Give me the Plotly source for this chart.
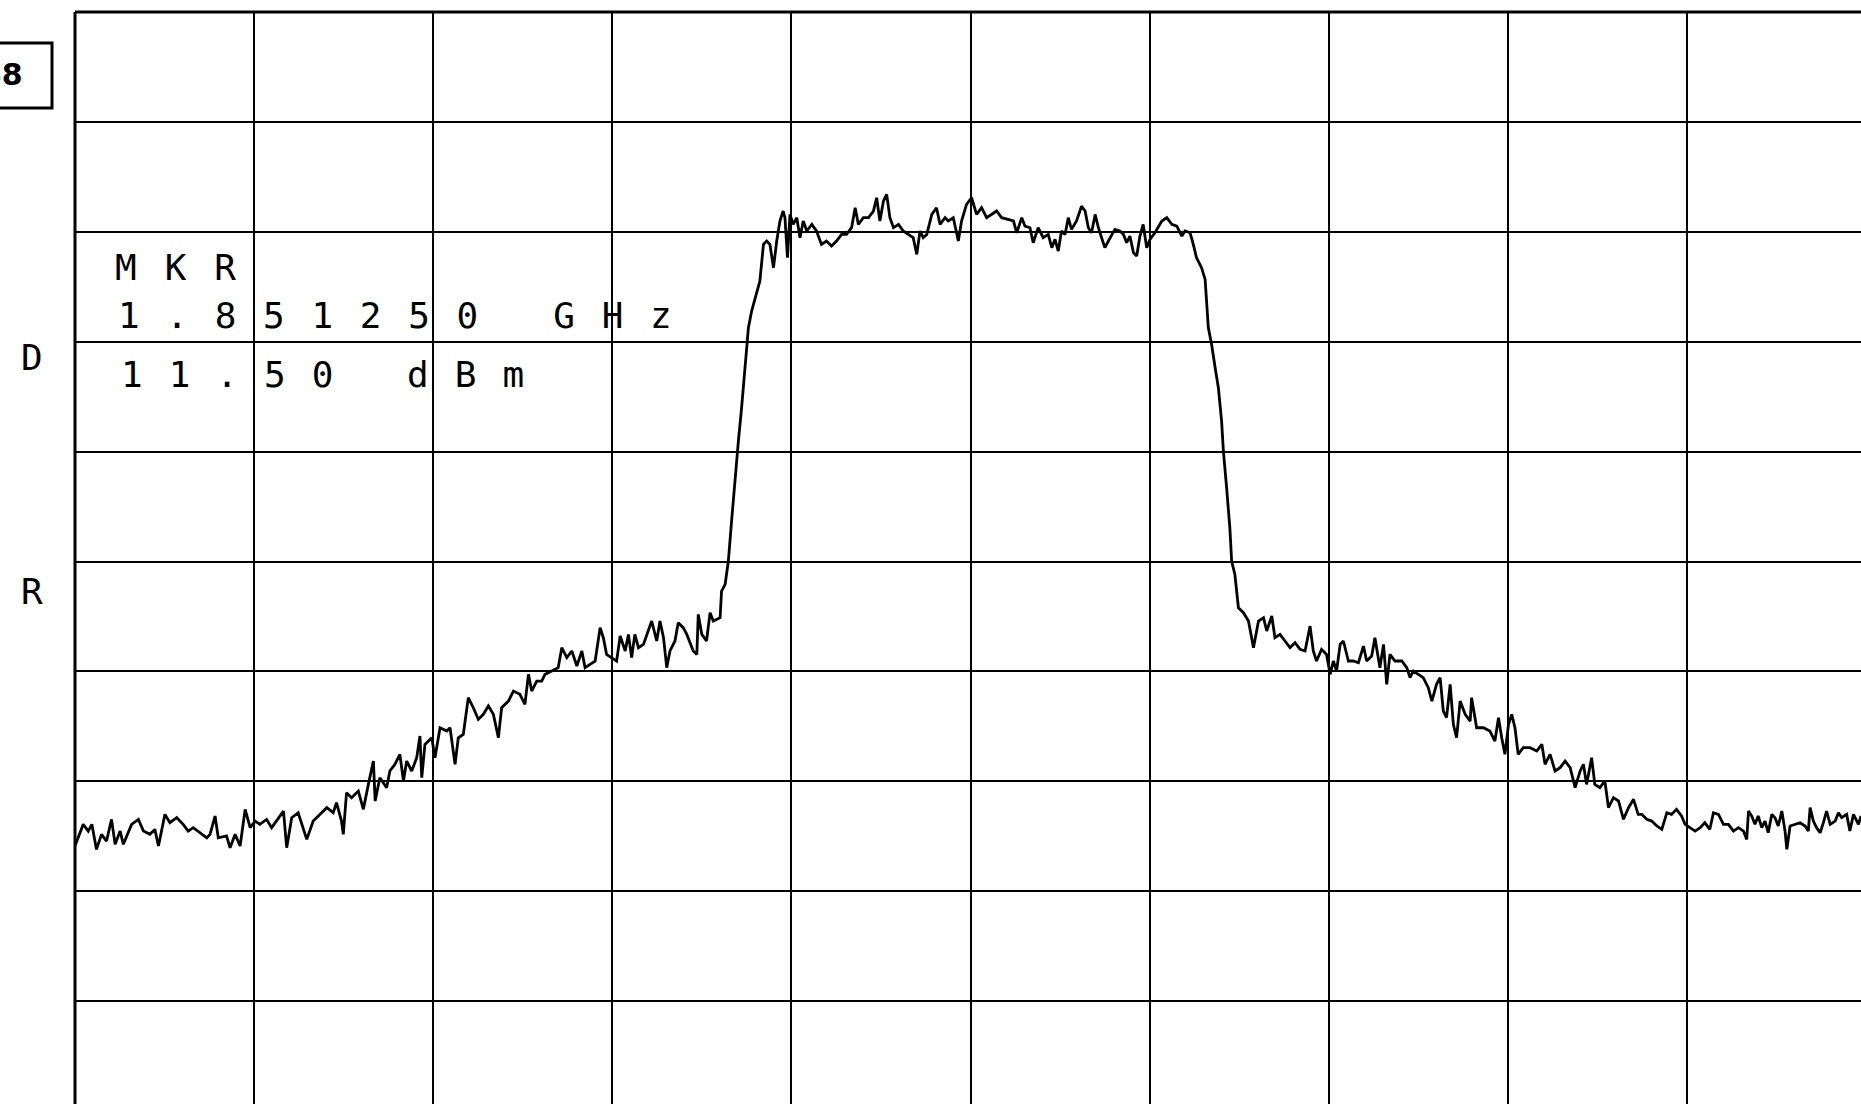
import plotly.graph_objects as go

# ---- data (spectrum analyser plot) ----
span_start_mhz = 1848.75          # left edge of the screen
mhz_per_div = 0.5
ref_level_dbm = 30.0
db_per_div = 10.0

marker_lines = ["MKR", "1.851250 GHz", "11.50 dBm"]
side_letters = ["D", "R"]
box_label = "88"

floor_left_off = [0.000,0.023,0.037,0.047,0.060,0.074,0.088,0.102,0.112,0.126,
                  0.135,0.158,0.177,0.191,0.209,0.223,0.233,0.251,0.265,0.284,
                  0.302,0.316,0.330,0.349,0.368,0.377,0.391,0.400,0.423,0.433,
                  0.447,0.461,0.475,0.489,0.503,0.516,0.535,0.549,0.563,0.582,
                  0.591,0.605,0.623,0.637,0.647]
floor_left_dbm = [-45.91,-43.94,-44.55,-43.94,-46.22,-44.85,-45.46,-43.49,-45.76,-44.55,
                  -45.76,-43.94,-43.49,-44.55,-44.85,-44.40,-45.91,-43.03,-43.79,-43.33,
                  -43.94,-44.55,-44.24,-44.70,-45.16,-44.85,-43.18,-45.16,-45.00,-46.07,
                  -44.85,-45.91,-42.57,-44.24,-43.64,-43.94,-43.49,-44.24,-43.64,-42.73,
                  -46.07,-43.33,-42.88,-44.24,-45.31]

shoulder_left_off = [0.665,0.684,0.703,0.721,0.730,0.744,0.749,0.758,0.772,0.791,
                     0.805,0.819,0.833,0.838,0.851,0.870,0.879,0.893,0.907,0.917,
                     0.926,0.940,0.954,0.963,0.968,0.977,
                     0.996,1.005,1.019,1.038,1.047,1.061,1.070,1.084,1.098,1.112,
                     1.126,1.140,1.154,1.168,1.182,1.191,1.210,1.224,1.242,1.256,
                     1.266,1.275,1.289,1.303,1.312,1.331,1.349,1.359,1.373,1.387,
                     1.401,1.415,1.424,1.438,1.452,1.466,1.475,1.484,1.498,1.512,
                     1.522,1.536,1.545,1.554,1.563,1.573,1.587,1.601,1.610,1.624,
                     1.633,1.643,1.652,1.661,1.675,1.684,1.698,1.708,1.726,1.736,
                     1.740,1.750,1.763,1.773,1.782,1.801]
shoulder_left_dbm = [-43.64,-43.03,-42.42,-42.88,-41.97,-43.64,-44.85,-41.06,-41.51,-40.91,
                     -42.57,-40.30,-38.17,-41.82,-39.69,-40.60,-39.08,-38.48,-37.57,-39.99,
                     -38.17,-39.08,-37.87,-35.90,-39.69,-36.66,
                     -36.05,-37.87,-35.14,-35.44,-35.14,-38.48,-36.05,-35.74,-32.40,-33.32,
                     -34.38,-33.92,-33.16,-33.92,-36.05,-33.32,-32.71,-31.80,-32.10,-33.01,
                     -30.28,-31.80,-30.89,-30.89,-30.28,-29.98,-29.67,-27.85,-28.76,-28.15,
                     -29.52,-28.15,-29.67,-29.37,-29.07,-26.03,-26.94,-28.46,-28.76,-29.07,
                     -26.79,-28.15,-26.64,-28.76,-26.64,-27.85,-27.55,-26.33,-25.42,-27.24,
                     -25.42,-26.94,-29.67,-28.15,-27.24,-25.57,-26.03,-26.64,-28.15,-28.46,
                     -24.82,-26.64,-27.24,-24.66,-25.42,-25.12]

channel_left_off = [1.805,1.815,1.824,1.833,1.843,1.852,1.861,1.870,1.880,1.889,
                    1.903,1.912,1.922,1.931,1.940,1.950,1.959,1.968,1.977,1.982,
                    1.989,1.996,2.005,2.015,2.024,2.033,2.043,2.057,2.070,2.084,
                    2.098,2.112,2.126,2.140,2.154,2.168,2.178,2.187,2.201,2.215,
                    2.229,2.238,2.247,2.257,2.266,2.275,2.285,2.299,2.312,2.326,
                    2.340,2.350,2.359,2.368,2.378,2.392,2.405,2.415,2.429,2.438,
                    2.452,2.466,2.475,2.489,2.503,2.517,2.531,2.545,2.564]
channel_left_dbm = [-22.69,-22.08,-19.96,-16.32,-12.07,-9.03,-5.99,-2.35,1.29,2.81,
                    4.33,5.54,8.88,9.19,8.88,6.76,9.19,11.01,11.92,11.31,
                    7.67,11.61,10.70,11.31,9.49,11.01,10.10,10.70,10.10,8.88,
                    9.19,8.73,9.19,9.79,9.79,10.40,12.22,10.70,11.31,11.31,
                    11.92,13.13,11.01,12.83,13.44,11.31,10.40,10.70,10.10,9.79,
                    9.49,7.97,10.10,9.49,9.79,11.61,12.22,10.70,11.31,11.01,
                    11.31,9.19,11.01,12.52,13.13,11.61,12.22,11.31,11.77]

channel_right_off = [2.573,2.587,2.606,2.620,2.629,2.643,2.652,2.666,2.675,2.689,
                     2.703,2.717,2.727,2.736,2.745,2.754,2.764,2.773,2.782,2.796,
                     2.810,2.820,2.829,2.838,2.848,2.857,2.866,2.875,2.885,2.894,
                     2.903,2.917,2.927,2.936,2.945,2.955,2.964,2.973,2.982,2.992,
                     3.001,3.015,3.024,3.034,3.048,3.062,3.076,3.090,3.099,3.113,
                     3.122,3.131,3.145,3.155,
                     3.164,3.173,3.183,3.192,3.201,3.206,3.215,3.224,3.229,3.238,
                     3.248,3.262,3.276]
channel_right_dbm = [11.92,11.31,11.16,11.01,9.94,11.31,10.55,10.40,9.03,10.40,
                     9.49,9.79,8.58,9.34,8.27,10.10,9.79,11.31,10.25,11.01,
                     12.37,11.92,10.40,9.94,11.61,10.40,9.49,8.58,9.19,9.79,
                     10.25,10.10,9.79,9.03,9.64,8.12,7.82,9.64,10.70,8.58,
                     9.34,9.94,10.40,11.01,11.31,10.70,10.55,9.64,10.10,9.94,
                     8.88,7.67,6.76,5.69,
                     1.29,-0.22,-2.35,-4.17,-7.21,-9.94,-13.28,-16.92,-19.96,-21.17,
                     -24.21,-24.66,-25.42]

shoulder_right_off = [3.290,3.304,3.318,3.327,3.341,3.350,3.364,3.378,3.392,3.406,
                      3.420,3.434,3.448,3.457,3.466,3.480,3.494,3.504,3.513,3.522,
                      3.532,3.541,3.555,3.569,3.583,3.597,3.606,3.620,3.629,3.643,
                      3.653,3.662,3.671,3.685,3.704,3.718,3.727,3.736,3.750,3.764,
                      3.778,3.788,3.801,3.811,3.820,3.829,3.839,3.848,3.857,3.867,
                      3.881,3.895,3.899,3.913,3.932,3.950,3.964,3.974,3.983,3.992,
                      4.002,4.011,4.020,4.029,4.043,4.062,4.081,4.095,4.104,4.118,
                      4.132,4.146,4.160,4.174,4.188,4.202,4.211,4.220,4.234,4.243,
                      4.257,4.271,4.281,4.295,4.309,4.323,4.337,4.351,4.364]
shoulder_right_dbm = [-27.85,-25.42,-25.12,-26.33,-24.97,-26.94,-26.64,-27.24,-27.85,-27.39,
                      -28.00,-28.15,-25.88,-28.15,-29.06,-28.00,-28.46,-30.28,-29.06,-29.97,
                      -27.55,-27.24,-29.06,-29.06,-29.22,-27.70,-29.06,-28.61,-26.94,-29.67,
                      -27.55,-31.19,-28.46,-29.06,-29.06,-29.67,-30.58,-29.97,-30.28,-30.58,
                      -31.49,-32.71,-31.19,-30.58,-33.62,-34.22,-31.19,-34.83,-36.05,-32.71,
                      -33.92,-34.53,-32.40,-35.14,-35.14,-35.44,-36.35,-34.22,-36.05,-37.56,
                      -34.83,-33.92,-35.14,-37.56,-36.96,-36.96,-37.26,-36.65,-38.47,-37.56,
                      -39.08,-38.78,-38.17,-38.78,-40.60,-39.08,-38.47,-40.30,-37.87,-40.30,
                      -40.60,-39.99,-42.42,-41.51,-41.81,-43.48,-42.42,-41.66,-43.03]

floor_right_off = [4.374,4.388,4.402,4.416,4.430,4.444,4.457,4.471,4.485,4.495,
                   4.509,4.523,4.537,4.550,4.564,4.574,4.588,4.602,4.616,4.630,
                   4.644,4.658,4.667,4.672,4.681,4.690,4.699,4.709,4.718,4.727,
                   4.737,4.746,4.755,4.765,4.774,4.779,4.788,4.802,4.816,4.830,
                   4.839,4.844,4.853,4.862,4.872,4.881,4.890,4.900,4.914,4.923,
                   4.932,4.946,4.955,4.965,4.979,4.986]
floor_right_dbm = [-43.03,-43.48,-43.64,-44.09,-44.39,-42.88,-43.03,-42.57,-43.18,-43.94,
                   -44.24,-44.55,-44.24,-43.79,-44.39,-42.88,-43.03,-43.94,-43.94,-44.55,
                   -44.24,-44.55,-45.31,-42.73,-43.18,-43.94,-43.18,-44.24,-43.64,-44.70,
                   -43.03,-43.33,-44.09,-42.73,-44.55,-46.22,-44.09,-43.94,-43.79,-44.09,
                   -44.55,-42.42,-43.64,-44.24,-44.70,-43.79,-42.73,-43.94,-43.64,-42.88,
                   -43.33,-43.03,-44.55,-43.03,-43.94,-43.18]

segments = [(floor_left_off, floor_left_dbm), (shoulder_left_off, shoulder_left_dbm),
            (channel_left_off, channel_left_dbm), (channel_right_off, channel_right_dbm),
            (shoulder_right_off, shoulder_right_dbm), (floor_right_off, floor_right_dbm)]
freq_mhz, level_dbm = [], []
for offs, lv in segments:
    assert len(offs) == len(lv), (len(offs), len(lv))
    freq_mhz += [span_start_mhz + o for o in offs]
    level_dbm += lv

# ---- layout geometry (pixels) ----
W, H = 1861, 1104
L, T = 75, 12
PW, PH = W - L, H - T
px_per_div_x = 179.1
px_per_div_y = 109.8
x_max = span_start_mhz + PW / px_per_div_x * mhz_per_div
y_top = ref_level_dbm + 0.5 / px_per_div_y * db_per_div
y_bot = y_top - PH / px_per_div_y * db_per_div


def pxx(X):
    return (X - L) / PW


def pxy(Y):
    return 1 - (Y - T) / PH


fig = go.Figure()
fig.add_trace(go.Scatter(x=freq_mhz, y=level_dbm, mode="lines",
                         line=dict(color="black", width=2.8), hoverinfo="skip"))

axis_common = dict(showticklabels=False, ticks="", showgrid=True, gridcolor="black",
                   gridwidth=2, zeroline=False, showline=False, fixedrange=True)
fig.update_xaxes(range=[span_start_mhz, x_max], tick0=span_start_mhz, dtick=mhz_per_div,
                 **axis_common)
fig.update_yaxes(range=[y_bot, y_top], tick0=ref_level_dbm, dtick=db_per_div, **axis_common)

shapes = [
    dict(type="line", xref="paper", yref="paper", x0=0, x1=0, y0=0, y1=1,
         line=dict(color="black", width=3)),
    dict(type="line", xref="paper", yref="paper", x0=0, x1=1, y0=1, y1=1,
         line=dict(color="black", width=3)),
    dict(type="rect", xref="paper", yref="paper", x0=pxx(-4), x1=pxx(52),
         y0=pxy(108), y1=pxy(43), line=dict(color="black", width=3)),
]

mono = "DejaVu Sans Mono"
annots = []
text_specs = [(marker_lines[0], 113, 267, 28),
              (marker_lines[1], 116, 315, 26.7),
              (marker_lines[2], 119, 375, 26)]
for txt, X, Y, ls in text_specs:
    annots.append(dict(x=pxx(X), y=pxy(Y), xref="paper", yref="paper", showarrow=False,
                       xanchor="left", yanchor="middle",
                       text=f'<span style="letter-spacing:{ls}px">{txt}</span>',
                       font=dict(family=mono, size=36, color="black")))
for letter, Y in zip(side_letters, [357, 591]):
    annots.append(dict(x=pxx(32), y=pxy(Y), xref="paper", yref="paper", showarrow=False,
                       xanchor="center", yanchor="middle", text=letter,
                       font=dict(family=mono, size=36, color="black")))
annots.append(dict(x=pxx(25), y=pxy(74), xref="paper", yref="paper", showarrow=False,
                   xanchor="right", yanchor="middle", text=f"<b>{box_label}</b>",
                   font=dict(family="DejaVu Sans", size=30, color="black")))

fig.update_layout(width=W, height=H, margin=dict(l=L, r=0, t=T, b=0, pad=0),
                  paper_bgcolor="white", plot_bgcolor="white", showlegend=False,
                  shapes=shapes, annotations=annots)

fig.write_html("out.html", config={"displayModeBar": False},
               post_script="document.body.style.margin='0';document.body.style.overflow='hidden';")
